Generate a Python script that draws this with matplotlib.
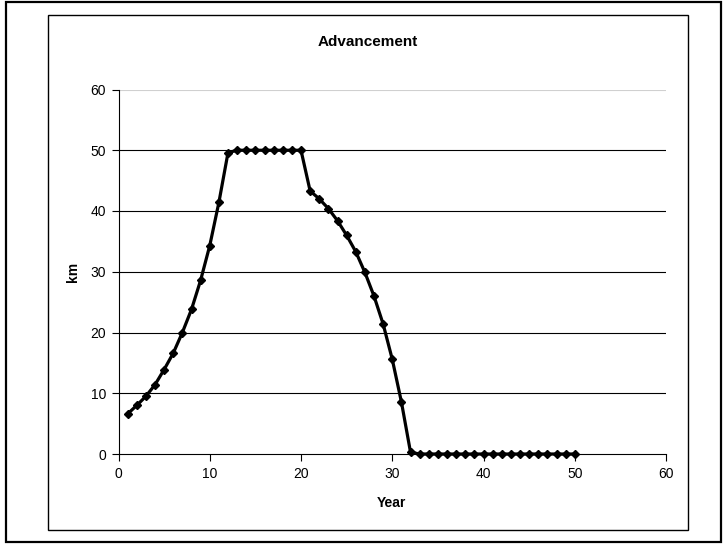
import matplotlib
matplotlib.use('Agg')
import matplotlib.pyplot as plt
from matplotlib.patches import Rectangle

plt.rcParams['font.family'] = ['Liberation Sans', 'DejaVu Sans']

# data
years = list(range(1, 51))
km = [6.6, 8.0, 9.5, 11.4, 13.9, 16.6, 20.0, 23.8, 28.6, 34.3,
      41.4, 49.6, 50.0, 50.0, 50.0, 50.0, 50.0, 50.0, 50.0, 50.0,
      43.3, 42.0, 40.4, 38.4, 36.0, 33.3, 29.9, 26.0, 21.4, 15.6,
      8.6, 0.3] + [0.0] * 18
xticks = [0, 10, 20, 30, 40, 50, 60]
yticks = [0, 10, 20, 30, 40, 50, 60]

W, H = 726, 544
fig = plt.figure(figsize=(W / 100, H / 100), dpi=100)

# outer frame and chart area frame (pixel coords -> figure fraction)
def frame(x0, y0, x1, y1, lw):
    fig.patches.append(Rectangle((x0 / W, 1 - y1 / H), (x1 - x0) / W, (y1 - y0) / H,
                                 transform=fig.transFigure, fill=False,
                                 edgecolor='black', linewidth=lw))

frame(6, 2, 721, 542, 1.6)
frame(48, 15, 688, 530, 1.0)

ax = fig.add_axes([118.5 / W, 1 - 454 / H, (666 - 118.5) / W, (454 - 89.5) / H])
ax.plot(years, km, color='black', linewidth=2.3, marker='D', markersize=4.2,
        markerfacecolor='black', markeredgecolor='black', clip_on=False)

ax.set_xlim(0, 60)
ax.set_ylim(0, 60)
ax.set_xticks(xticks)
ax.set_yticks(yticks)
for v in yticks[1:-1]:
    ax.axhline(v, color='black', linewidth=0.8, zorder=0)
ax.axhline(60, color='#d0d0d0', linewidth=0.8, zorder=0)

for s in ['top', 'right']:
    ax.spines[s].set_visible(False)
for s in ['left', 'bottom']:
    ax.spines[s].set_linewidth(0.8)
ax.tick_params(direction='out', length=5, width=0.8, labelsize=10, pad=4)

fig.text(368 / W, 1 - 41.5 / H, 'Advancement', ha='center', va='center',
         fontsize=11, fontweight='bold')
fig.text(391.5 / W, 1 - 503 / H, 'Year', ha='center', va='center',
         fontsize=10, fontweight='bold')
fig.text(72.5 / W, 1 - 272 / H, 'km', ha='center', va='center',
         fontsize=10, fontweight='bold', rotation=90)

fig.savefig('out.png', dpi=100)
